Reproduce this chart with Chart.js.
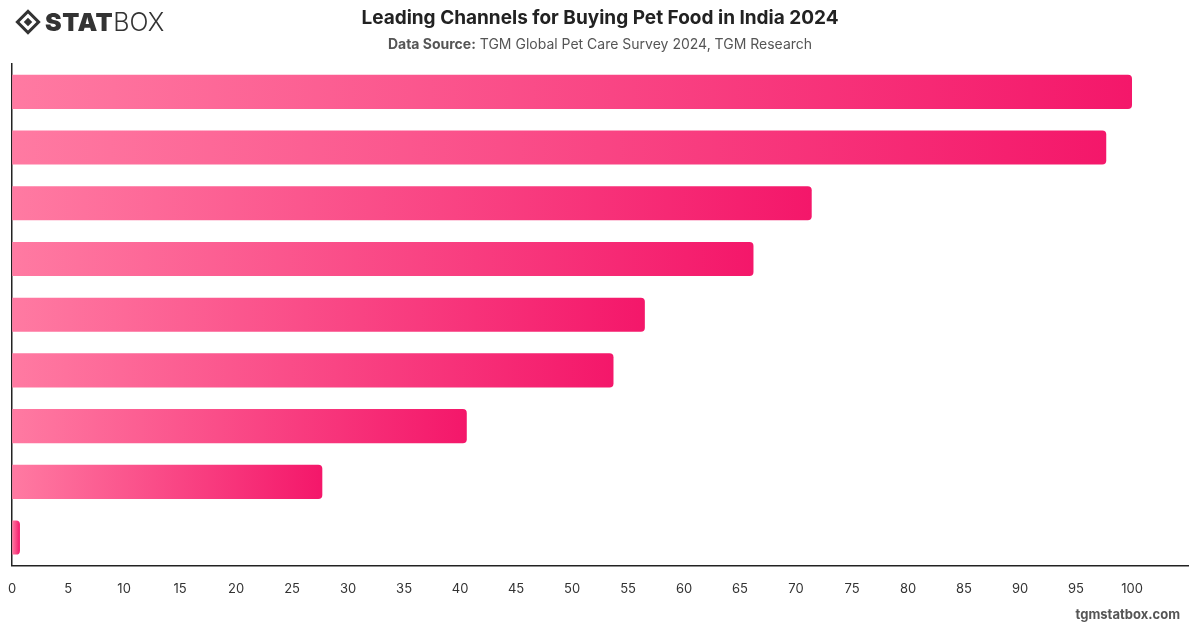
<!DOCTYPE html>
<html>
<head>
<meta charset="utf-8">
<script src="https://cdn.jsdelivr.net/npm/chart.js@4/dist/chart.umd.min.js"></script>
<style>
  html, body { margin: 0; padding: 0; background: #fff; }
  body { width: 1200px; height: 628px; position: relative; overflow: hidden; font-family: Inter, "Noto Sans", sans-serif; }
  #wrap { position: absolute; left: 0; top: 0; width: 1200px; height: 628px; }
  .logo { position: absolute; left: 15px; top: 7px; height: 30px; display: flex; align-items: center; color: #333; }
  .logo .gem { width: 18px; height: 18px; border: 3px solid #333; transform: rotate(45deg); position: relative; margin: 0 8px 0 4px; box-sizing: border-box; }
  .logo .gem::after { content: ""; position: absolute; left: 3px; top: 3px; width: 6px; height: 6px; background: #333; }
  .logo .b { font-weight: 900; font-size: 25px; letter-spacing: 0.5px; }
  .logo .l { font-weight: 300; font-size: 25px; }
  .title { position: absolute; left: 0; width: 1200px; top: 6px; text-align: center; font-size: 19px; font-weight: 700; color: #222; }
  .sub { position: absolute; left: 0; width: 1200px; top: 35px; text-align: center; font-size: 14px; color: #555; }
  .sub b { font-weight: 700; }
  .foot { position: absolute; right: 20px; top: 606px; font-size: 13px; font-weight: 700; color: #555; }
</style>
</head>
<body>
<div id="wrap"><canvas id="chart" width="1200" height="628"></canvas></div>
<div class="logo"><div class="gem"></div><span class="b">STAT</span><span class="l">BOX</span></div>
<div class="title">Leading Channels for Buying Pet Food in India 2024</div>
<div class="sub"><b>Data Source:</b> TGM Global Pet Care Survey 2024, TGM Research</div>
<div class="foot">tgmstatbox.com</div>
<script>
// channel names are not printed on the chart, placeholders only
const channels = ['Channel 1', 'Channel 2', 'Channel 3', 'Channel 4', 'Channel 5', 'Channel 6', 'Channel 7', 'Channel 8', 'Channel 9'];
const shares = [100, 97.7, 71.4, 66.2, 56.5, 53.7, 40.6, 27.7, 0.7];
const xTicksMax = 100;

function barFill(ctx) {
    const chart = ctx.chart;
    if (!chart.chartArea) return '#f7377a';
    const x = chart.scales.x;
    const x0 = x.getPixelForValue(0);
    const x1 = x.getPixelForValue(ctx.raw || 0.1);
    const g = chart.ctx.createLinearGradient(x0, 0, Math.max(x1, x0 + 1), 0);
    g.addColorStop(0, '#ff7aa2');
    g.addColorStop(1, '#f4176a');
    return g;
}

new Chart(document.getElementById('chart').getContext('2d'), {
    type: 'bar',
    data: {
        labels: channels,
        datasets: [{
            data: shares,
            backgroundColor: barFill,
            borderRadius: { topRight: 4, bottomRight: 4, topLeft: 0, bottomLeft: 0 },
            borderSkipped: false,
            barPercentage: 0.9,
            categoryPercentage: 0.68
        }]
    },
    options: {
        indexAxis: 'y',
        responsive: false,
        animation: false,
        layout: { padding: { top: 64, left: 3, right: 12, bottom: 23 } },
        plugins: { legend: { display: false }, tooltip: { enabled: false } },
        scales: {
            x: {
                min: 0,
                max: 105,
                grid: { display: false },
                border: { display: true, color: '#222', width: 1.5 },
                ticks: {
                    stepSize: 5,
                    color: '#333',
                    padding: 8,
                    font: { family: 'Inter', size: 13 },
                    callback: v => v <= xTicksMax ? v : ''
                }
            },
            y: {
                grid: { display: false },
                border: { display: true, color: '#222', width: 1.5 },
                ticks: { display: false }
            }
        }
    }
});
</script>
</body>
</html>
